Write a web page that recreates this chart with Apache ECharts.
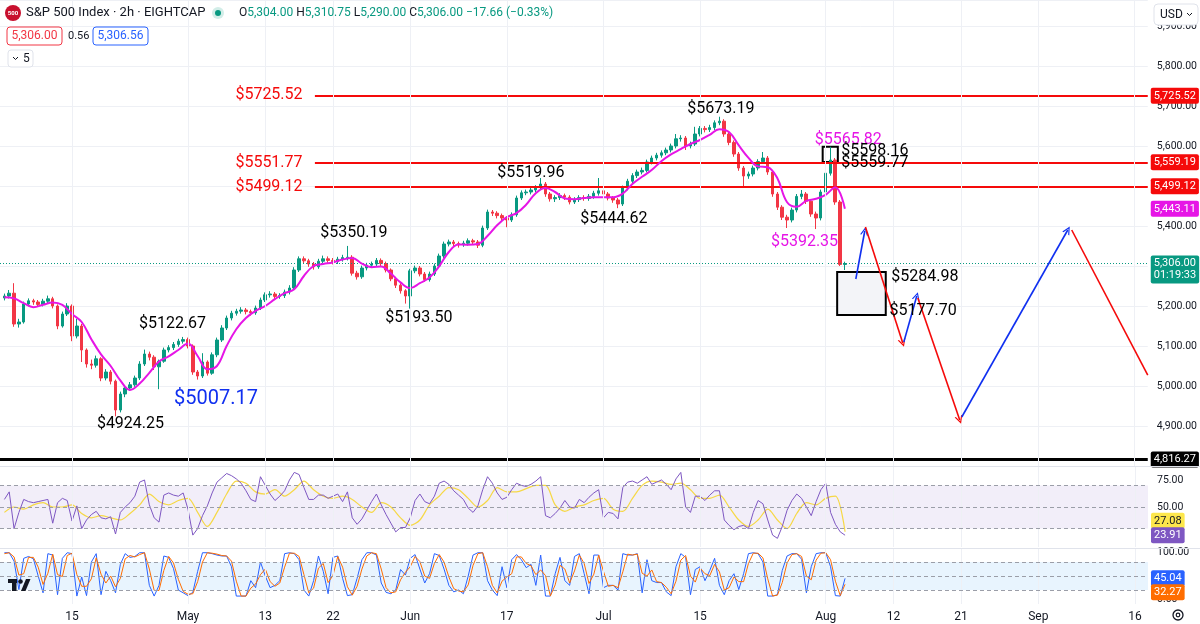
<!DOCTYPE html>
<html><head><meta charset="utf-8">
<script src="https://cdn.jsdelivr.net/npm/echarts@6/dist/echarts.min.js"></script>
<style>html,body{margin:0;padding:0;background:#fff}#c{width:1200px;height:624px}</style>
</head><body><div id="c"></div>
<script>
// x positions are trading-day indices (0 = Apr 4); candles every half day
const tickDays = [7,19,27,34,42,52,62,72,85,92,99,107,117];
const tickLabels = ['15','May','13','22','Jun','17','Jul','15','Aug','12','21','Sep','16'];
const priceTicks = [4900,5000,5100,5200,5300,5400,5500,5600,5700,5800,5900];

// [open, close, low, high]
const candles = [
[5220,5225,5214,5231],[5225,5232,5219,5240],[5232,5155,5148,5257],[5155,5160,5146,5168],[5160,5205,5156,5211],
[5205,5213,5199,5219],[5213,5210,5203,5218],[5210,5204,5198,5215],[5204,5212,5199,5218],[5212,5218,5206,5226],
[5218,5200,5194,5223],[5200,5150,5142,5204],[5150,5180,5146,5186],[5180,5200,5175,5207],[5200,5125,5112,5204],
[5125,5150,5119,5168],[5150,5090,5060,5155],[5090,5055,5046,5094],[5055,5052,5042,5066],[5052,5068,5046,5076],
[5068,5020,5012,5072],[5020,5035,5014,5042],[5035,5012,5004,5040],[5012,4940,4924.25,5016],[4940,4980,4934,4986],
[4980,4995,4972,5002],[4995,5003,4988,5010],[5003,5020,4998,5026],[5020,5055,5015,5062],[5055,5080,5050,5091],
[5080,5072,5064,5086],[5072,5048,5040,5077],[5048,5062,4992,5066],[5062,5090,5058,5096],[5090,5096,5084,5102],
[5096,5104,5090,5110],[5104,5112,5098,5118],[5112,5116,5106,5122.67],[5116,5100,5094,5121],[5100,5035,5028,5104],
[5035,5025,5016,5040],[5025,5060,5020,5082],[5060,5032,5026,5064],[5032,5078,5028,5084],[5078,5115,5072,5121],
[5115,5145,5110,5152],[5145,5170,5140,5176],[5170,5182,5164,5188],[5182,5187,5176,5193],[5187,5190,5181,5197],
[5190,5186,5179,5195],[5186,5183,5176,5191],[5183,5195,5178,5201],[5195,5215,5190,5221],[5215,5228,5210,5234],
[5228,5230,5221,5237],[5230,5224,5217,5235],[5224,5226,5218,5232],[5226,5235,5220,5241],[5235,5245,5229,5252],
[5245,5290,5240,5297],[5290,5318,5285,5324],[5318,5313,5306,5324],[5313,5305,5298,5318],[5305,5298,5291,5310],
[5298,5312,5293,5318],[5312,5318,5306,5326],[5318,5314,5308,5324],[5314,5311,5304,5320],[5311,5317,5305,5323],
[5317,5321,5311,5328],[5321,5322,5314,5350.19],[5322,5282,5276,5327],[5282,5273,5266,5288],[5273,5295,5268,5301],
[5295,5302,5289,5308],[5302,5305,5296,5311],[5305,5314,5300,5320],[5314,5306,5299,5319],[5306,5290,5284,5311],
[5290,5268,5262,5294],[5268,5252,5245,5273],[5252,5238,5231,5257],[5238,5225,5206,5242],[5225,5288,5193.5,5293],
[5288,5295,5282,5301],[5295,5280,5274,5300],[5280,5266,5260,5285],[5266,5280,5261,5286],[5280,5300,5275,5306],
[5300,5325,5295,5331],[5325,5355,5320,5361],[5355,5360,5349,5366],[5360,5356,5350,5365],[5356,5353,5346,5361],
[5353,5357,5348,5363],[5357,5363,5351,5369],[5363,5360,5354,5368],[5360,5352,5345,5365],[5352,5395,5347,5401],
[5395,5435,5390,5441],[5435,5432,5425,5440],[5432,5426,5419,5437],[5426,5420,5413,5431],[5420,5415,5397,5425],
[5415,5428,5410,5434],[5428,5470,5423,5476],[5470,5483,5465,5489],[5483,5485,5477,5491],[5485,5490,5479,5496],
[5490,5496,5484,5502],[5496,5505,5490,5519.96],[5505,5480,5473,5510],[5480,5468,5461,5485],[5468,5471,5460,5477],
[5471,5476,5465,5482],[5476,5472,5465,5481],[5472,5460,5454,5477],[5460,5466,5455,5472],[5466,5471,5460,5477],
[5471,5469,5463,5477],[5469,5474,5463,5480],[5474,5482,5468,5488],[5482,5488,5476,5520],[5488,5480,5473,5493],
[5480,5470,5464,5485],[5470,5465,5458,5475],[5465,5455,5444.62,5470],[5455,5495,5450,5501],[5495,5512,5489,5518],
[5512,5526,5506,5532],[5526,5535,5520,5541],[5535,5539,5529,5546],[5539,5560,5534,5566],[5560,5570,5554,5576],
[5570,5577,5564,5583],[5577,5583,5571,5589],[5583,5590,5577,5596],[5590,5600,5584,5606],[5600,5618,5594,5630],
[5618,5620,5611,5627],[5620,5600,5590,5625],[5600,5605,5594,5611],[5605,5630,5600,5648],[5630,5644,5624,5650],
[5644,5641,5634,5650],[5641,5646,5635,5653],[5646,5658,5640,5664],[5658,5662,5652,5673.19],[5662,5630,5623,5667],
[5630,5609,5602,5635],[5609,5580,5573,5614],[5580,5545,5538,5585],[5545,5525,5497,5550],[5525,5530,5518,5536],
[5530,5545,5524,5551],[5545,5561,5539,5567],[5561,5570,5555,5585],[5570,5535,5528,5575],[5535,5480,5473,5540],
[5480,5447,5440,5485],[5447,5422,5415,5452],[5422,5415,5395,5428],[5415,5440,5409,5446],[5440,5474,5434,5480],
[5474,5480,5467,5490],[5480,5462,5455,5485],[5462,5430,5423,5467],[5430,5420,5392.35,5436],[5420,5485,5414,5491],
[5485,5532,5479,5538],[5532,5565,5526,5598.16],[5565,5460,5453,5570],[5460,5304,5300,5465],[5304,5306,5290,5310.75]
];

// moving average, one value per trading day
const maDaily = [
5222,5219,5207,5197,5203,5209,5203,5180,5160,5117,
5079,5050,5014,4990,5006,5033,5061,5074,5090,5106,
5075,5042,5050,5100,5142,5170,5188,5200,5217,5232,
5242,5275,5300,5305,5309,5316,5320,5306,5297,5299,
5281,5259,5245,5257,5271,5299,5335,5354,5353,5355,
5375,5402,5422,5432,5453,5482,5495,5485,5469,5467,
5470,5472,5472,5472,5481,5505,5523,5540,5562,5579,
5592,5605,5615,5628,5642,5635,5602,5571,5549,5547,
5520,5460,5448,5463,5468,5478,5497,5443.11
];

// RSI per candle
const rsi = [
57,64,30,45,57,55,54,55,56,57,
35,54,58,56,37,51,30,38,43,46,
40,39,41,25,45,50,54,60,73,75,
52,40,36,61,63,61,60,63,48,24,
30,42,51,63,73,77,81,79,76,72,
65,57,55,78,70,62,56,60,65,75,
82,80,68,57,57,61,61,58,60,62,
55,64,40,34,39,47,55,62,52,43,
35,27,31,31,40,56,62,55,53,60,
72,74,71,65,61,57,49,45,51,66,
78,72,63,57,59,66,72,70,69,71,
74,78,42,40,44,49,56,50,49,57,
54,59,63,66,40,45,44,39,68,73,
74,72,75,78,71,73,75,71,66,76,
82,50,45,60,60,56,61,65,65,38,
33,29,32,33,30,45,56,53,38,24,
21,32,47,56,62,58,50,42,55,66,
72,45,34,27,23.91
];
// RSI moving average, one value per trading day
const rsiMaDaily = [
45,50,48,52,54,50,50,52,44,40,
42,40,38,44,52,62,55,52,56,58,
45,32,45,62,74,72,64,62,66,60,
66,74,66,60,58,60,57,50,45,54,
50,40,33,38,52,60,68,66,58,50,
56,68,64,64,67,70,70,52,46,50,
52,56,58,48,46,58,70,74,73,71,
72,66,58,58,61,50,38,32,38,48,
38,30,44,54,52,58,60,27.08
];
// Stochastic %K and %D per candle
const stochK = [
100,100,82,21,88,92,87,50,14,98,
95,10,88,100,98,7,48,8,80,98,
10,60,40,14,75,98,90,92,100,100,
30,7,30,93,90,66,20,14,8,15,
60,100,100,98,95,93,93,70,7,7,
7,40,25,80,50,25,30,40,98,100,
98,85,20,7,40,93,60,12,90,93,
45,8,10,45,85,100,100,95,35,15,
12,20,64,52,88,96,65,35,55,98,
94,65,30,16,20,12,50,95,100,100,
40,20,8,70,25,85,96,85,68,75,
30,95,7,7,55,90,40,30,92,98,
55,12,95,95,25,30,30,20,98,95,
95,98,14,85,40,36,36,16,8,70,
98,90,10,64,70,40,62,88,30,10,
40,55,21,55,98,100,98,80,7,7,
10,62,93,98,98,86,14,70,98,100,
100,70,8,7,45.04
];
const stochD = [
98,100,91,52,55,90,90,69,32,56,
97,53,49,94,99,53,28,28,44,89,
54,35,50,27,45,87,94,91,96,100,
65,19,19,62,92,78,43,17,11,12,
38,80,100,99,97,94,93,82,39,7,
7,24,33,53,65,38,28,35,69,99,
99,92,53,14,24,67,77,36,51,92,
69,27,9,28,65,93,100,98,65,25,
14,16,42,58,70,92,81,50,45,77,
96,80,48,23,18,16,31,73,98,100,
70,30,14,39,48,55,91,91,77,72,
53,63,51,7,31,73,65,35,61,95,
77,34,54,95,60,28,30,25,59,97,
95,97,56,50,63,38,36,26,12,39,
84,94,50,37,67,55,51,75,59,20,
25,48,38,38,77,99,99,89,44,7,
9,36,78,96,98,92,50,42,84,99,
100,85,39,8,32.27
];

// drawn levels
const redLevels = [5725.52, 5559.19, 5499.12];
const redLevelStart = 32.14;
const supportLevel = 4816.27;
const lastPrice = 5306.00;

// projection path segments [d1, p1, d2, p2, dir]
const projections = [
  [88.13,5267.5,89.06,5387.5,'up'],
  [89.13,5397.5,92.99,5107.5,'down'],
  [93.1,5110,94.44,5225,'up'],
  [94.55,5220,98.89,4915,'down'],
  [99.1,4922.5,110.07,5390,'up']
];
const projectionTail = [110.48,5390,118.35,5027];

// rectangles
const boxes = [
  {d1:86.2, p1:5284.98, d2:91.23, p2:5177.70, fill:'rgba(242,243,248,0.95)'},
  {d1:84.7, p1:5598.16, d2:86.27, p2:5559.77, fill:'rgba(0,0,0,0)'}
];

const RED = '#f50a0a', BLUE = '#1030f0', MAG = '#e615e6';
// text annotations
const annotations = [
  {t:'$5725.52', d:23.86, p:5727.5, c:RED, s:16, a:'left'},
  {t:'$5551.77', d:23.86, p:5557.5, c:RED, s:16, a:'left'},
  {t:'$5499.12', d:23.86, p:5497.5, c:RED, s:16, a:'left'},
  {t:'$5673.19', d:74.16, p:5692.5, c:'#000', s:16, a:'center'},
  {t:'$5519.96', d:54.5, p:5532.5, c:'#000', s:16, a:'center'},
  {t:'$5444.62', d:63.09, p:5417.5, c:'#000', s:16, a:'center'},
  {t:'$5350.19', d:36.18, p:5382.5, c:'#000', s:16, a:'center'},
  {t:'$5193.50', d:42.9, p:5170, c:'#000', s:16, a:'center'},
  {t:'$5122.67', d:17.4, p:5155, c:'#000', s:16, a:'center'},
  {t:'$5007.17', d:21.9, p:4967.5, c:BLUE, s:20, a:'center'},
  {t:'$4924.25', d:13.05, p:4905, c:'#000', s:16, a:'center'},
  {t:'$5565.82', d:87.35, p:5615, c:MAG, s:16, a:'center'},
  {t:'$5392.35', d:82.82, p:5360, c:MAG, s:16, a:'center'},
  {t:'$5598.16', d:86.58, p:5586.7, c:'#000', s:16, a:'left'},
  {t:'$5559.77', d:86.58, p:5556.7, c:'#000', s:16, a:'left'},
  {t:'$5284.98', d:91.75, p:5273.3, c:'#000', s:16, a:'left'},
  {t:'$5177.70', d:91.57, p:5187.5, c:'#000', s:16, a:'left'}
];

// price-axis tags
const tagsMain = [
  {v:5725.52, bg:RED, fg:'#fff'},
  {v:5559.19, bg:RED, fg:'#fff'},
  {v:5499.12, bg:RED, fg:'#fff'},
  {v:5443.11, bg:MAG, fg:'#fff'},
  {v:5306.00, bg:'#089981', fg:'#fff', extra:'01:19:33', dy:6},
  {v:4816.27, bg:'#000', fg:'#fff'}
];
const tagsRsi = [
  {v:27.08, bg:'#fde74c', fg:'#131722', dy:-11},
  {v:23.91, bg:'#7e57c2', fg:'#fff'}
];
const tagsStoch = [
  {v:45.04, bg:'#2962ff', fg:'#fff'},
  {v:32.27, bg:'#ff6d00', fg:'#fff', dy:8}
];

const X_MIN = -0.455, X_MAX = 118.35;
const fmt = v => Number(v).toLocaleString('en-US',{minimumFractionDigits:2, maximumFractionDigits:2});
const chevron = 'path://M0,10L5,0L10,10L8.4,10L5,3.2L1.6,10Z';
const UP = '#089981', DOWN = '#f23645';

function gridLinesSeries(idx){
  return {type:'line', xAxisIndex:idx, yAxisIndex:idx, data:[], z:1, silent:true,
    markLine:{silent:true, symbol:['none','none'], animation:false, label:{show:false},
      lineStyle:{color:'#eef0f5', width:1, type:'solid'},
      data: tickDays.map(d=>({xAxis:d}))}};
}
function tagSeries(idx, tags){
  return {type:'scatter', xAxisIndex:idx, yAxisIndex:idx, symbolSize:0, clip:false, silent:true, z:20,
    itemStyle:{opacity:1, color:'rgba(0,0,0,0)'},
    data: tags.map(t=>({value:[X_MAX, t.v], label:{show:true, position:'right', distance:3,
      formatter: fmt(t.v) + (t.extra ? '\n' + t.extra : ''), backgroundColor:t.bg, color:t.fg,
      padding:[2,3,2,3], fontSize:11, lineHeight:12, borderRadius:2, offset:[0, t.dy||0], align:'left'}}))};
}
function hLine(v, color, width, type){
  return {yAxis:v, lineStyle:{color:color, width:width, type:type}};
}

const chart = echarts.init(document.getElementById('c'));
const option = {
  animation:false,
  backgroundColor:'#fff',
  textStyle:{fontFamily:'Roboto'},
  grid:[
    {left:0, right:52, top:0, height:466},
    {left:0, right:52, top:467, height:80},
    {left:0, right:52, top:549, height:55}
  ],
  xAxis:[
    {type:'value', gridIndex:0, min:X_MIN, max:X_MAX, show:false},
    {type:'value', gridIndex:1, min:X_MIN, max:X_MAX, show:false},
    {type:'value', gridIndex:2, min:X_MIN, max:X_MAX, axisLine:{show:false}, axisTick:{show:false}, splitLine:{show:false},
      axisLabel:{customValues:tickDays, color:'#131722', fontSize:12, margin:7,
        formatter:v=>{const k=tickDays.findIndex(t=>Math.abs(t-v)<0.01); return k>=0?tickLabels[k]:'';}}}
  ],
  yAxis:[
    {type:'value', gridIndex:0, position:'right', min:4800, max:5965, interval:100,
      axisLine:{show:false}, axisTick:{show:false}, splitLine:{lineStyle:{color:'#eef0f5'}},
      axisLabel:{customValues:priceTicks, formatter:fmt, color:'#131722', fontSize:10.5, margin:9}},
    {type:'value', gridIndex:1, position:'right', min:13, max:87,
      axisLine:{show:false}, axisTick:{show:false}, splitLine:{show:false},
      axisLabel:{customValues:[50,75], formatter:fmt, color:'#131722', fontSize:10.5, margin:9}},
    {type:'value', gridIndex:2, position:'right', min:-10, max:108,
      axisLine:{show:false}, axisTick:{show:false}, splitLine:{show:false},
      axisLabel:{customValues:[0,100], formatter:fmt, color:'#131722', fontSize:10.5, margin:9}}
  ],
  series:[
    gridLinesSeries(0), gridLinesSeries(1), gridLinesSeries(2),
    {type:'candlestick', xAxisIndex:0, yAxisIndex:0, barWidth:3, z:3,
      data: candles.map((r,i)=>[i*0.5, r[0], r[1], r[2], r[3]]),
      encode:{x:0, y:[1,2,3,4]},
      itemStyle:{color:UP, color0:DOWN, borderColor:UP, borderColor0:DOWN, borderWidth:1},
      markLine:{silent:true, symbol:['none','none'], label:{show:false}, z:4,
        data:[
          hLine(lastPrice, UP, 1, [1,2]),
          hLine(supportLevel, '#000', 3, 'solid'),
          ...redLevels.map(v=>[{coord:[redLevelStart, v], lineStyle:{color:RED, width:2, type:'solid'}}, {coord:[X_MAX, v]}])
        ]}
    },
    {type:'line', xAxisIndex:0, yAxisIndex:0, data: maDaily.map((v,j)=>[j,v]), smooth:0.4, showSymbol:false,
      lineStyle:{color:MAG, width:2}, z:4, silent:true,
      markArea:{silent:true, data: boxes.map(b=>[{coord:[b.d1,b.p1], itemStyle:{color:b.fill, borderColor:'#000', borderWidth:2}}, {coord:[b.d2,b.p2]}])}
    },
    {type:'lines', coordinateSystem:'cartesian2d', xAxisIndex:0, yAxisIndex:0, z:6, silent:true,
      symbol:['none', chevron], symbolSize:[9,8],
      lineStyle:{opacity:1, width:1.6},
      data: projections.map(p=>({coords:[[p[0],p[1]],[p[2],p[3]]], lineStyle:{color: p[4]==='up'?BLUE:RED, width:1.6, opacity:1}}))
    },
    {type:'lines', coordinateSystem:'cartesian2d', xAxisIndex:0, yAxisIndex:0, z:6, silent:true,
      symbol:['none','none'], lineStyle:{opacity:1, width:1.6},
      data:[{coords:[[projectionTail[0],projectionTail[1]],[projectionTail[2],projectionTail[3]]], lineStyle:{color:RED, width:1.6, opacity:1}}]
    },
    {type:'scatter', xAxisIndex:0, yAxisIndex:0, symbolSize:1, z:10, silent:true,
      itemStyle:{opacity:1, color:'rgba(0,0,0,0)'},
      data: annotations.map(a=>({value:[a.d,a.p], label:{show:true, formatter:a.t, color:a.c, fontSize:a.s,
        position: a.a==='left'?'right':'inside', distance:0, fontFamily:'Roboto'}}))
    },
    tagSeries(0, tagsMain),
    {type:'line', xAxisIndex:1, yAxisIndex:1, data: rsi.map((v,i)=>[i*0.5, v]), showSymbol:false,
      lineStyle:{color:'#7e57c2', width:1}, z:4, silent:true,
      markArea:{silent:true, data:[[{yAxis:70, itemStyle:{color:'rgba(126,87,194,0.1)'}}, {yAxis:30}]]},
      markLine:{silent:true, symbol:['none','none'], label:{show:false},
        data:[hLine(70,'#9b9ea8',1,[4,3]), hLine(50,'#9b9ea8',1,[4,3]), hLine(30,'#9b9ea8',1,[4,3])]}
    },
    {type:'line', xAxisIndex:1, yAxisIndex:1, data: rsiMaDaily.map((v,j)=>[j,v]), showSymbol:false, smooth:0.3,
      lineStyle:{color:'#f6d845', width:1.2}, z:3, silent:true},
    tagSeries(1, tagsRsi),
    {type:'line', xAxisIndex:2, yAxisIndex:2, data: stochK.map((v,i)=>[i*0.5, v]), showSymbol:false,
      lineStyle:{color:'#2962ff', width:1}, z:3, silent:true,
      markArea:{silent:true, data:[[{yAxis:80, itemStyle:{color:'rgba(33,150,243,0.1)'}}, {yAxis:20}]]},
      markLine:{silent:true, symbol:['none','none'], label:{show:false},
        data:[hLine(80,'#9b9ea8',1,[4,3]), hLine(50,'#9b9ea8',1,[4,3]), hLine(20,'#9b9ea8',1,[4,3])]}
    },
    {type:'line', xAxisIndex:2, yAxisIndex:2, data: stochD.map((v,i)=>[i*0.5, v]), showSymbol:false,
      lineStyle:{color:'#ff6d00', width:1}, z:4, silent:true},
    tagSeries(2, tagsStoch)
  ],
  graphic:[
    {type:'line', z:50, shape:{x1:0,y1:466.5,x2:1200,y2:466.5}, style:{stroke:'#e0e3eb', lineWidth:1}},
    {type:'line', z:50, shape:{x1:0,y1:548.5,x2:1200,y2:548.5}, style:{stroke:'#e0e3eb', lineWidth:1}},
    {type:'circle', z:100, shape:{cx:13, cy:13, r:8}, style:{fill:'#c8102e'}},
    {type:'text', z:101, x:13, y:13, style:{text:'500', fill:'#fff', font:'bold 6px Roboto', align:'center', verticalAlign:'middle'}},
    {type:'text', z:100, x:26, y:13, style:{text:'S&P 500 Index · 2h · EIGHTCAP', fill:'#131722', font:'13px Roboto', verticalAlign:'middle'}},
    {type:'circle', z:100, shape:{cx:218, cy:13, r:6}, style:{fill:'rgba(8,153,129,0.18)'}},
    {type:'circle', z:101, shape:{cx:218, cy:13, r:3}, style:{fill:UP}},
    {type:'text', z:100, x:239, y:13, style:{
      text:'{k|O}{v|5,304.00} {k|H}{v|5,310.75} {k|L}{v|5,290.00} {k|C}{v|5,306.00} {v|−17.66 (−0.33%)}',
      font:'12px Roboto', verticalAlign:'middle',
      rich:{k:{fill:'#131722', font:'12px Roboto'}, v:{fill:UP, font:'12px Roboto'}}}},
    {type:'rect', z:100, shape:{x:7, y:27, width:55, height:18, r:3}, style:{fill:'#fff', stroke:DOWN, lineWidth:1}},
    {type:'text', z:101, x:34.5, y:36, style:{text:'5,306.00', fill:DOWN, font:'12px Roboto', align:'center', verticalAlign:'middle'}},
    {type:'text', z:100, x:68, y:36, style:{text:'0.56', fill:'#131722', font:'11px Roboto', verticalAlign:'middle'}},
    {type:'rect', z:100, shape:{x:93, y:27, width:55, height:18, r:3}, style:{fill:'#fff', stroke:'#2962ff', lineWidth:1}},
    {type:'text', z:101, x:120.5, y:36, style:{text:'5,306.56', fill:'#2962ff', font:'12px Roboto', align:'center', verticalAlign:'middle'}},
    {type:'rect', z:100, shape:{x:8, y:50, width:25, height:17, r:3}, style:{fill:'#fff', stroke:'#e0e3eb', lineWidth:1}},
    {type:'polyline', z:101, shape:{points:[[13,57],[15.5,59.5],[18,57]]}, style:{stroke:'#131722', lineWidth:1, fill:null}},
    {type:'text', z:101, x:23, y:58.5, style:{text:'5', fill:'#131722', font:'12px Roboto', verticalAlign:'middle'}},
    {type:'rect', z:100, shape:{x:1154, y:4, width:44, height:21, r:4}, style:{fill:'#fff', stroke:'#e0e3eb', lineWidth:1}},
    {type:'text', z:101, x:1160, y:14.5, style:{text:'USD', fill:'#131722', font:'12px Roboto', verticalAlign:'middle'}},
    {type:'polyline', z:101, shape:{points:[[1187,13],[1189.5,15.5],[1192,13]]}, style:{stroke:'#131722', lineWidth:1, fill:null}},
    {type:'rect', z:60, shape:{x:1149, y:604.5, width:51, height:6}, style:{fill:'#fff'}},
    {type:'circle', z:100, shape:{cx:1178, cy:615, r:5}, style:{fill:'none', stroke:'#131722', lineWidth:1.3}},
    {type:'circle', z:100, shape:{cx:1178, cy:615, r:1.8}, style:{fill:'none', stroke:'#131722', lineWidth:1.2}},
    {type:'rect', z:100, shape:{x:8, y:579, width:9, height:4}, style:{fill:'#131722'}},
    {type:'rect', z:100, shape:{x:12, y:579, width:4.5, height:12}, style:{fill:'#131722'}},
    {type:'circle', z:100, shape:{cx:20.5, cy:581.5, r:2.3}, style:{fill:'#131722'}},
    {type:'polygon', z:100, shape:{points:[[21,591],[26,579],[30.5,579],[25.5,591]]}, style:{fill:'#131722'}}
  ]
};
chart.setOption(option);
</script>
</body></html>
